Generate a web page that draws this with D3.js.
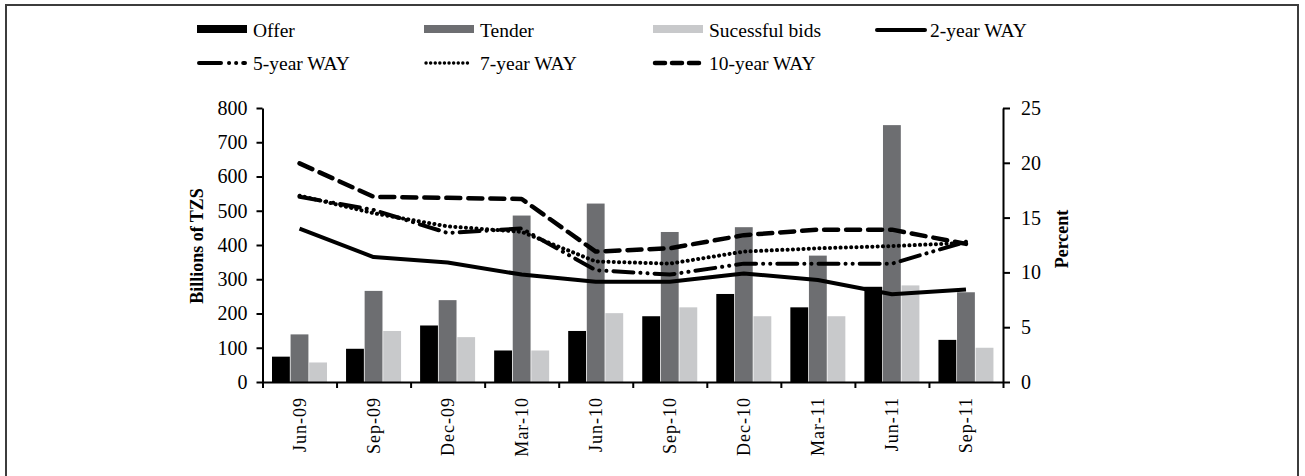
<!DOCTYPE html>
<html>
<head>
<meta charset="utf-8">
<script src="https://cdn.jsdelivr.net/npm/d3@7"></script>
<style>
  body { margin: 0; background: #fff; }
  svg text { font-family: "Liberation Serif", "Times New Roman", serif; fill: #000; }
</style>
</head>
<body>
<svg width="1305" height="476"></svg>
<script>
var quarters = ["Jun-09", "Sep-09", "Dec-09", "Mar-10", "Jun-10", "Sep-10", "Dec-10", "Mar-11", "Jun-11", "Sep-11"];
var offer = [74, 97, 165, 92, 149, 192, 257, 218, 278, 123];
var tender = [139, 266, 239, 486, 521, 438, 452, 369, 750, 262];
var bids = [57, 149, 131, 92, 201, 218, 192, 192, 282, 100];
var way2 = [14.0, 11.4, 10.9, 9.8, 9.15, 9.15, 9.9, 9.3, 8.0, 8.45];
var way5 = [16.9, 15.7, 13.6, 14.0, 10.2, 9.8, 10.8, 10.8, 10.8, 12.8];
var way7 = [17.0, 15.4, 14.2, 13.7, 11.0, 10.8, 11.9, 12.2, 12.4, 12.7];
var way10 = [19.95, 16.9, 16.8, 16.7, 11.9, 12.2, 13.4, 13.9, 13.9, 12.6];
var leftTicks = [0, 100, 200, 300, 400, 500, 600, 700, 800];
var rightTicks = [0, 5, 10, 15, 20, 25];

var svg = d3.select("svg");

// frame round the whole figure
svg.append("rect")
    .attr("x", 6).attr("y", 5)
    .attr("width", 1292).attr("height", 480)
    .attr("fill", "none")
    .attr("stroke", "#3c3c3c")
    .attr("stroke-width", 2);

var plotLeft = 262.5, plotRight = 1003, plotTop = 108, plotBottom = 382;

var x = d3.scaleBand().domain(quarters).range([plotLeft, plotRight]);
var xEdge = d3.scaleLinear().domain([0, quarters.length]).range([plotLeft, plotRight]);
var xSub = d3.scaleBand().domain(["offer", "tender", "bids"])
    .range([9.5, 9.5 + 55]).paddingInner(0.04);
var yL = d3.scaleLinear().domain([0, 800]).range([plotBottom, plotTop]);
var yR = d3.scaleLinear().domain([0, 25]).range([plotBottom, plotTop]);

var bars = [
  {key: "offer", values: offer, color: "#000000"},
  {key: "tender", values: tender, color: "#6d6e71"},
  {key: "bids", values: bids, color: "#c8c9cb"}
];

bars.forEach(function (s) {
  svg.append("g").selectAll("rect")
      .data(s.values)
    .enter().append("rect")
      .attr("x", function (d, i) { return x(quarters[i]) + xSub(s.key); })
      .attr("y", function (d) { return yL(d); })
      .attr("width", xSub.bandwidth())
      .attr("height", function (d) { return yL(0) - yL(d); })
      .attr("fill", s.color);
});

var lines = [
  {values: way2, dash: null, width: 4},
  {values: way5, dash: "20,7,0.1,7,0.1,7", width: 4},
  {values: way7, dash: "0.1,5.2", width: 4},
  {values: way10, dash: "14,8", width: 4.5}
];

var line = d3.line()
    .x(function (d, i) { return x(quarters[i]) + x.bandwidth() / 2; })
    .y(function (d) { return yR(d); });

lines.forEach(function (l) {
  svg.append("path")
      .datum(l.values)
      .attr("fill", "none")
      .attr("stroke", "#000")
      .attr("stroke-width", l.width)
      .attr("stroke-linecap", l.dash ? "round" : "butt")
      .attr("stroke-linejoin", "round")
      .attr("stroke-dasharray", l.dash)
      .attr("d", line);
});

function styleAxis(g, size) {
  g.select(".domain").attr("stroke", "#000").attr("stroke-width", 2);
  g.selectAll(".tick line").attr("stroke", "#000").attr("stroke-width", 2);
  g.selectAll(".tick text").style("font-size", size + "px")
      .style("font-family", "Liberation Serif").attr("fill", "#000");
}

var gl = svg.append("g")
    .attr("transform", "translate(" + plotLeft + ",0)")
    .call(d3.axisLeft(yL).tickValues(leftTicks).tickSize(6).tickSizeOuter(0).tickPadding(9));
styleAxis(gl, 20);

var gr = svg.append("g")
    .attr("transform", "translate(" + plotRight + ",0)")
    .call(d3.axisRight(yR).tickValues(rightTicks).tickSize(7).tickSizeOuter(0).tickPadding(11));
styleAxis(gr, 20);

var gb = svg.append("g")
    .attr("transform", "translate(0," + plotBottom + ")")
    .call(d3.axisBottom(xEdge).tickValues(d3.range(0, quarters.length + 1))
      .tickFormat("").tickSize(6).tickSizeOuter(0));
styleAxis(gb, 17);

var gx = svg.append("g")
    .attr("transform", "translate(0," + plotBottom + ")")
    .call(d3.axisBottom(x).tickSize(0).tickPadding(0));
gx.select(".domain").remove();
gx.selectAll(".tick text")
    .style("font-size", "18px")
    .style("font-family", "Liberation Serif")
    .style("letter-spacing", "1px")
    .attr("fill", "#000")
    .attr("text-anchor", "end")
    .attr("transform", "translate(6,15) rotate(-90)")
    .attr("dy", "0em")
    .attr("y", 0);

svg.append("text")
    .attr("transform", "translate(203,246) rotate(-90)")
    .attr("text-anchor", "middle")
    .style("font-size", "18px")
    .style("font-weight", "bold")
    .text("Billions of TZS");

svg.append("text")
    .attr("transform", "translate(1068,239) rotate(-90)")
    .attr("text-anchor", "middle")
    .style("font-size", "18px")
    .style("font-weight", "bold")
    .text("Percent");

// legend
var legendItems = [
  {name: "Offer", kind: "bar", color: "#000000"},
  {name: "Tender", kind: "bar", color: "#6d6e71"},
  {name: "Sucessful bids", kind: "bar", color: "#c8c9cb"},
  {name: "2-year WAY", kind: "line", dash: null, width: 4},
  {name: "5-year WAY", kind: "line", dash: "22,8,0.1,7,0.1,7", width: 4},
  {name: "7-year WAY", kind: "line", dash: "0.1,4.5", width: 3.4},
  {name: "10-year WAY", kind: "line", dash: "10,7", width: 4.5}
];
var colX = [197, 424, 653, 875];
var rowY = [30, 63];

legendItems.forEach(function (d, i) {
  var r = Math.floor(i / 4), c = i % 4;
  var sx = colX[c], sy = rowY[r];
  var g = svg.append("g");
  if (d.kind === "bar") {
    g.append("rect").attr("x", sx).attr("y", sy - 5).attr("width", 50).attr("height", 8)
        .attr("fill", d.color);
  } else {
    var len = c === 3 ? 52 : 50;
    g.append("line").attr("x1", sx + 2).attr("x2", sx + len - 2)
        .attr("y1", sy).attr("y2", sy)
        .attr("stroke", "#000").attr("stroke-width", d.width)
        .attr("stroke-linecap", "round")
        .attr("stroke-dasharray", d.dash);
  }
  g.append("text")
      .attr("x", c === 3 ? sx + 55 : sx + 56)
      .attr("y", sy + 7)
      .style("font-size", "19.5px")
      .text(d.name);
});
</script>
</body>
</html>
